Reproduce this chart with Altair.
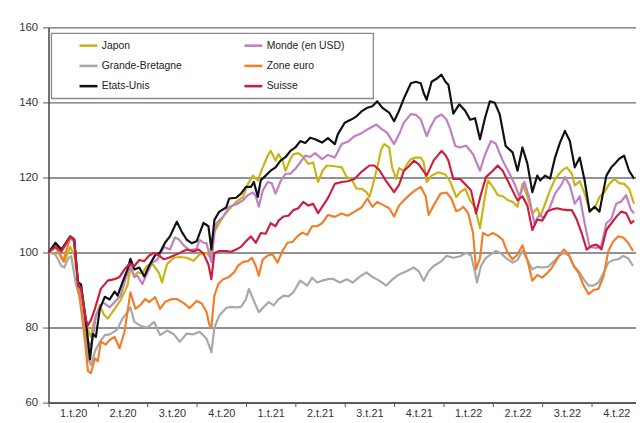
import altair as alt
import pandas as pd

SERIES = ["Japon", "Monde (en USD)", "Grande-Bretagne", "Zone euro", "Etats-Unis", "Suisse"]
COLORS = ["#c9b416", "#bf7fc2", "#a8a8a8", "#f07f2c", "#111111", "#cc1f40"]
QUARTER_LABELS = ["1.t.20", "2.t.20", "3.t.20", "4.t.20", "1.t.21", "2.t.21",
                  "3.t.21", "4.t.21", "1.t.22", "2.t.22", "3.t.22", "4.t.22"]
Y_TICKS = [60, 80, 100, 120, 140, 160]

# time in quarters since start of 2020, index value
JAPON = [(0,100),(.14,101.5),(.26,98.5),(.32,97.5),(.44,101.5),(.52,99.5),(.6,92),(.7,87),(.76,82),
 (.82,78.5),(.86,77.5),(.9,80.5),(.96,83),(1.04,86),(1.12,83.5),(1.2,82.4),(1.34,85),(1.46,87.3),
 (1.6,91.2),(1.66,96),(1.74,93.5),(1.8,94.7),(1.9,94.5),(2.0,96.5),(2.1,97),(2.16,96),(2.24,94.5),
 (2.3,92),(2.4,96.9),(2.54,98.6),(2.66,98.8),(2.8,98.6),(2.94,97.8),(3.06,99.5),(3.2,99.9),(3.26,99),
 (3.34,105.2),(3.4,106.5),(3.54,109.6),(3.66,111.5),(3.8,113.5),(3.94,114.8),(4.04,118.3),(4.14,120.5),
 (4.24,119.2),(4.34,122.7),(4.44,125.8),(4.5,127.1),(4.6,124.5),(4.66,126.2),(4.74,124.5),(4.8,121.8),
 (4.9,124.9),(4.96,126.2),(5.06,126.5),(5.16,125.5),(5.26,123.6),(5.36,124),(5.46,118.8),(5.56,122),
 (5.64,123.2),(5.8,123),(5.94,122.7),(6.04,120.1),(6.14,119.5),(6.24,117),(6.34,117),(6.44,116.1),
 (6.5,114.8),(6.56,117.5),(6.66,122.7),(6.74,127.5),(6.8,128.9),(6.9,128),(6.96,122.7),(7.04,119.6),
 (7.1,122.5),(7.2,121.8),(7.26,123.5),(7.34,124.9),(7.44,125.3),(7.54,125.3),(7.6,124),(7.66,118.8),
 (7.76,120.5),(7.9,121.4),(8.04,120.8),(8.14,118.8),(8.26,114.8),(8.34,116.1),(8.44,117),(8.54,113.9),
 (8.64,112),(8.74,106.5),(8.84,114.8),(8.9,119.2),(9.0,117.5),(9.1,115.3),(9.2,115),(9.3,114),
 (9.4,113.5),(9.5,112.2),(9.6,118.3),(9.7,115),(9.8,110.4),(9.9,111.8),(9.96,109.6),(10.06,113),
 (10.16,116.6),(10.26,119.6),(10.4,121.8),(10.5,122.7),(10.6,121),(10.66,117.9),(10.76,119),
 (10.86,115.7),(10.96,111.3),(11.06,111.8),(11.16,114.8),(11.26,116.1),(11.36,118.3),(11.46,119.6),
 (11.56,118.5),(11.66,118.3),(11.76,117),(11.86,113)]

MONDE = [(0,100),(.14,102),(.26,100.3),(.44,103.8),(.52,103),(.6,91.5),(.72,83),(.8,76.5),(.86,75),
 (.92,79.5),(.96,83.2),(1.1,86.8),(1.24,85.4),(1.36,87.1),(1.46,88.5),(1.56,92.9),(1.66,96.5),
 (1.74,93.5),(1.8,93.8),(1.9,91.6),(2.0,94.5),(2.1,97.3),(2.2,98),(2.34,101.5),(2.46,100.8),(2.56,104),
 (2.64,103.5),(2.74,101.9),(2.86,100.6),(3.0,101),(3.06,103.4),(3.14,102.6),(3.2,102.5),(3.26,99.5),
 (3.3,97.5),(3.36,105),(3.4,107.8),(3.54,109.6),(3.66,112.2),(3.8,112.8),(3.94,113.9),(4.04,115.3),
 (4.14,116),(4.2,115),(4.26,112.2),(4.34,116.5),(4.44,118.8),(4.52,118.5),(4.6,115.7),(4.7,119),
 (4.8,121),(4.9,121),(5.0,122.3),(5.1,124),(5.2,125.8),(5.3,125.5),(5.4,126.5),(5.54,124.9),(5.66,126),
 (5.8,125.3),(5.94,128.9),(6.06,129.5),(6.2,131),(6.34,131.8),(6.46,132.8),(6.64,134.1),(6.74,133),
 (6.86,131.9),(7.0,128.9),(7.1,131.5),(7.2,134.6),(7.34,136.9),(7.44,136.7),(7.54,135.5),(7.66,131),
 (7.74,133.5),(7.84,135.9),(7.96,136.8),(8.06,135.5),(8.14,132.8),(8.24,128.4),(8.34,128),(8.46,128.5),
 (8.6,126.2),(8.74,121.8),(8.84,126),(8.96,129.7),(9.06,129),(9.2,124.5),(9.3,122),(9.44,118.3),
 (9.54,114.8),(9.64,118.8),(9.74,114.5),(9.84,107.8),(9.94,110),(10.04,109.2),(10.16,112.2),
 (10.26,115.7),(10.4,118.3),(10.46,120.1),(10.56,117.9),(10.66,113),(10.76,115),(10.86,107.8),
 (10.96,101.5),(11.1,101.2),(11.2,101.9),(11.3,107.8),(11.4,109),(11.5,113),(11.6,113.6),(11.7,115.3),
 (11.8,111.3),(11.86,110.5)]

GRANDE_BRETAGNE = [(0,100),(.14,99.5),(.26,96.4),(.32,96),(.4,98.5),(.46,99),(.56,91.2),(.66,86.8),
 (.74,79.7),(.8,71.8),(.86,70),(.94,73.6),(1.04,76.2),(1.14,78),(1.24,78.2),(1.34,79),(1.4,79.7),
 (1.5,82.4),(1.6,84.1),(1.66,85.4),(1.74,81.5),(1.86,80.5),(2.0,80),(2.14,81.5),(2.26,78),(2.4,79.2),
 (2.54,78.2),(2.66,76.2),(2.8,78.4),(2.94,78.2),(3.06,78.9),(3.2,77.1),(3.3,73.4),(3.36,80),(3.46,83.2),
 (3.6,85.2),(3.7,85.5),(3.8,85.4),(3.9,85.5),(4.0,87.6),(4.06,90.3),(4.16,87.1),(4.26,84.1),(4.36,85.5),
 (4.46,86.8),(4.56,85.9),(4.66,87.5),(4.76,88.5),(4.86,88.3),(4.96,89.4),(5.1,92.5),(5.24,91.2),
 (5.34,93.3),(5.44,92),(5.54,92.5),(5.66,92.9),(5.76,93),(5.9,92),(6.04,92.9),(6.16,92),(6.3,93.5),
 (6.44,94.7),(6.56,93.5),(6.7,92.5),(6.84,91.2),(6.94,92.5),(7.06,93.8),(7.16,94.5),(7.26,95.1),
 (7.4,96),(7.5,95),(7.6,92.5),(7.7,95),(7.8,96.4),(7.94,97.5),(8.06,99.1),(8.2,98.6),(8.34,99),
 (8.46,99.9),(8.56,99.2),(8.64,94.7),(8.68,92),(8.76,96.4),(8.86,98.6),(8.96,99.5),(9.06,100.4),
 (9.16,99.8),(9.26,98.6),(9.4,97.3),(9.5,98),(9.6,100.4),(9.7,98),(9.8,95.5),(9.9,96.2),(10.0,96),
 (10.12,96.2),(10.24,97.7),(10.34,99.1),(10.44,99.9),(10.54,99.2),(10.64,96.4),(10.74,95),(10.84,92.9),
 (10.94,91.2),(11.04,91.2),(11.14,92),(11.24,94.5),(11.34,97.3),(11.44,98),(11.54,98.2),(11.64,99.1),
 (11.74,98.5),(11.84,96.4)]

ZONE_EURO = [(0,100),(.14,101.5),(.26,99),(.3,97.7),(.44,104),(.52,103.5),(.6,91.1),(.68,83),(.74,76.3),
 (.8,68.4),(.86,67.9),(.94,71.8),(1.0,71),(1.06,76.2),(1.16,75.5),(1.24,76.7),(1.34,77.5),(1.44,74.5),
 (1.54,78.9),(1.66,89.4),(1.76,85),(1.86,86),(1.96,87.6),(2.04,86.8),(2.16,88.1),(2.26,85),(2.36,86.8),
 (2.5,87.6),(2.6,87.6),(2.74,86.5),(2.86,85.2),(3.0,87.1),(3.1,86.5),(3.2,84.2),(3.26,80.6),(3.3,80.1),
 (3.36,88.5),(3.44,91.6),(3.54,92.9),(3.66,93.5),(3.76,94.7),(3.84,96.5),(3.94,97.5),(4.04,97.7),
 (4.12,98.6),(4.2,96.4),(4.26,93.8),(4.34,98.2),(4.44,99.2),(4.54,99.5),(4.64,97.3),(4.74,100.4),
 (4.84,102.6),(4.94,102.8),(5.04,104.3),(5.14,105.3),(5.24,104.7),(5.34,107),(5.44,107),(5.54,107.8),
 (5.66,110),(5.8,109.5),(5.94,110.4),(6.06,109.8),(6.2,110.9),(6.34,112),(6.46,114.4),(6.56,112.2),
 (6.66,113.5),(6.8,112.5),(6.9,111.8),(7.0,109.6),(7.1,112.5),(7.2,113.9),(7.34,115.7),(7.44,116.7),
 (7.54,117.5),(7.64,115),(7.7,110),(7.8,112.5),(7.94,115.7),(8.06,116),(8.16,114.4),(8.26,111),
 (8.34,111.5),(8.4,112.2),(8.5,110.5),(8.6,105.2),(8.66,95.5),(8.74,98.5),(8.8,105.2),(8.9,104.5),
 (9.0,105.2),(9.1,104.5),(9.2,103.4),(9.3,99.9),(9.4,98.2),(9.5,99.5),(9.6,101.9),(9.7,98),(9.8,92.5),
 (9.9,94),(10.0,93.3),(10.1,94.5),(10.2,96),(10.34,99.1),(10.44,100.8),(10.54,99.5),(10.64,96.4),
 (10.74,94.5),(10.84,91.2),(10.94,88.9),(11.04,90),(11.14,90.3),(11.24,93.5),(11.34,100.4),(11.44,103),
 (11.54,104.3),(11.64,104),(11.74,102.6),(11.84,100.4)]

ETATS_UNIS = [(0,100),(.14,102.6),(.26,100.8),(.44,104.3),(.52,103.5),(.6,92),(.66,91.5),(.76,81.3),
 (.84,71.5),(.9,78.3),(.96,77.5),(1.04,85),(1.14,88.2),(1.24,87.5),(1.34,89.6),(1.4,88.5),(1.5,92.1),
 (1.6,95.5),(1.66,98.3),(1.74,95.5),(1.84,96),(1.94,93.6),(2.04,96.5),(2.16,99.3),(2.26,100),
 (2.36,102.6),(2.46,104.3),(2.6,108.2),(2.7,105.5),(2.8,103.4),(2.9,102.5),(3.0,103),(3.14,107.9),
 (3.24,107),(3.3,100.8),(3.36,108.7),(3.46,110.9),(3.6,112),(3.66,114.4),(3.8,114.6),(3.9,115.7),
 (4.0,117.5),(4.1,117.5),(4.16,118.8),(4.24,114.8),(4.3,119.3),(4.4,120.5),(4.5,121.8),(4.6,122.7),
 (4.7,124.5),(4.8,125.4),(4.9,127.1),(5.0,128),(5.1,129.7),(5.2,129.2),(5.3,130.6),(5.4,130.2),
 (5.54,129.3),(5.66,130.5),(5.8,128.9),(5.86,131.5),(6.0,134.6),(6.14,135.5),(6.24,136.3),(6.34,137.6),
 (6.46,138.6),(6.56,139),(6.66,140.3),(6.76,138.6),(6.84,137.8),(6.9,137.3),(7.0,135),(7.1,137.8),
 (7.2,141.1),(7.34,145.1),(7.44,145.5),(7.54,145.1),(7.6,142.5),(7.66,140.7),(7.76,145.5),(7.86,146.3),
 (7.96,147.4),(8.04,145.5),(8.1,144.7),(8.2,137),(8.32,139.5),(8.44,137.8),(8.54,135.4),(8.64,135.8),
 (8.74,130.2),(8.84,135.8),(8.94,140.3),(9.04,139.9),(9.14,136.8),(9.26,128.4),(9.4,126.7),(9.5,121.8),
 (9.6,128),(9.7,123.7),(9.8,116.1),(9.9,120.5),(9.96,119.2),(10.06,120.5),(10.16,119.7),(10.26,125.3),
 (10.36,129.3),(10.46,132.4),(10.56,129.7),(10.66,122.7),(10.76,125.3),(10.86,119.2),(10.96,110.9),
 (11.06,112.2),(11.16,110.9),(11.3,120.5),(11.4,122.7),(11.46,123.5),(11.56,125),(11.66,125.8),
 (11.76,121.8),(11.86,119.7)]

SUISSE = [(0,100),(.14,101.5),(.26,100.3),(.44,104.3),(.52,103.5),(.6,91.1),(.66,90.5),(.76,82),
 (.8,80.6),(.86,82),(.94,85),(1.06,90.3),(1.2,92.5),(1.34,92.9),(1.44,93.5),(1.54,95.5),(1.64,97),
 (1.74,96.4),(1.84,98),(1.94,97.7),(2.04,99.2),(2.14,99.9),(2.24,99.2),(2.34,98.2),(2.44,98.6),
 (2.54,99.2),(2.66,99.9),(2.8,100.8),(2.94,100.3),(3.04,100.8),(3.14,99.7),(3.24,96.8),(3.3,92.9),
 (3.36,99.9),(3.46,100.4),(3.6,100.4),(3.7,100.2),(3.8,100.8),(3.9,101.5),(4.0,103),(4.1,104.3),
 (4.2,102.6),(4.3,105.2),(4.4,105),(4.5,107.8),(4.6,107),(4.66,108.5),(4.76,109.6),(4.86,109.8),
 (4.96,111.3),(5.06,111.8),(5.16,113.5),(5.26,112.5),(5.36,113),(5.46,110.5),(5.56,112.5),(5.66,114.5),
 (5.8,118.3),(5.94,118.8),(6.06,119),(6.2,119.6),(6.34,121.5),(6.5,123.2),(6.6,123.2),(6.7,122),
 (6.84,119),(7.0,116.1),(7.1,118),(7.2,121.8),(7.3,123),(7.4,124.5),(7.5,123.5),(7.66,120.5),(7.8,124.5),
 (7.96,127.1),(8.04,126),(8.1,124.5),(8.2,119.6),(8.34,119.6),(8.46,117.9),(8.56,116.5),(8.66,110.4),
 (8.76,115.5),(8.86,120.1),(9.0,121.8),(9.1,123.2),(9.2,121.8),(9.3,119.2),(9.4,116.5),(9.5,113.9),
 (9.6,115),(9.7,112.5),(9.8,106),(9.9,108.8),(10.0,108.5),(10.1,110.9),(10.2,111.5),(10.3,111.8),
 (10.4,111.5),(10.5,111.3),(10.6,111.3),(10.7,108.8),(10.8,105.2),(10.9,100.8),(11.0,101.8),(11.1,102.1),
 (11.2,100.8),(11.3,106),(11.4,107.8),(11.5,109.5),(11.6,110.9),(11.7,110.5),(11.8,107.8),(11.86,108.5)]

SERIES_POINTS = [JAPON, MONDE, GRANDE_BRETAGNE, ZONE_EURO, ETATS_UNIS, SUISSE]

rows = []
for name, pts in zip(SERIES, SERIES_POINTS):
    for t, v in pts:
        rows.append({"serie": name, "t": t, "v": v})
df = pd.DataFrame(rows)

label_expr = "[" + ",".join("'%s'" % s for s in QUARTER_LABELS) + "][datum.value]"

# legend frame (decoration behind the legend entries)
legend_box = alt.Chart(alt.Data(values=[{"k": 1}])).mark_rect(
    fill="white", stroke="#8a8a8a", strokeWidth=1.3
).encode(x=alt.value(3), x2=alt.value(329), y=alt.value(6), y2=alt.value(72))

lines = alt.Chart(df).mark_line(strokeWidth=2.2, strokeJoin="round").encode(
    x=alt.X("t:Q", title=None,
            scale=alt.Scale(domain=[0, 11.9], nice=False, zero=False),
            axis=alt.Axis(values=list(range(12)), labelExpr=label_expr, labelOffset=25,
                          labelFlush=False, labelOverlap=False, labelBound=False,
                          grid=False, tickSize=4, labelPadding=1, tickColor="#555",
                          domainColor="#444", domainWidth=1.5, labelFontSize=11,
                          labelColor="#333", labelFont="Liberation Sans")),
    y=alt.Y("v:Q", title=None,
            scale=alt.Scale(domain=[60, 160], nice=False, zero=False),
            axis=alt.Axis(values=Y_TICKS, grid=True, gridColor="#6e6e6e", gridWidth=1.4,
                          tickSize=6, tickColor="#555", labelPadding=5,
                          domainColor="#444", domainWidth=1.5, labelFontSize=11.5,
                          labelColor="#333", labelFont="Liberation Sans")),
    color=alt.Color("serie:N",
                    scale=alt.Scale(domain=SERIES, range=COLORS),
                    legend=alt.Legend(orient="none", legendX=30, legendY=8, columns=2,
                                      direction="horizontal", title=None,
                                      symbolType="stroke", symbolStrokeWidth=2.6, symbolSize=330,
                                      labelFont="Liberation Sans", labelFontSize=10.5,
                                      labelColor="#222", padding=0, rowPadding=4.5,
                                      columnPadding=57, labelOffset=3)),
    order=alt.Order("t:Q"),
)

chart = alt.layer(legend_box, lines).properties(
    width=595, height=380,
    padding={"left": 41, "top": 17, "right": 0, "bottom": 17},
    autosize=alt.AutoSizeParams(type="none"),
    background="white",
).configure_view(stroke=None)

chart.save("out.html", embed_options={"renderer": "svg", "actions": False})
